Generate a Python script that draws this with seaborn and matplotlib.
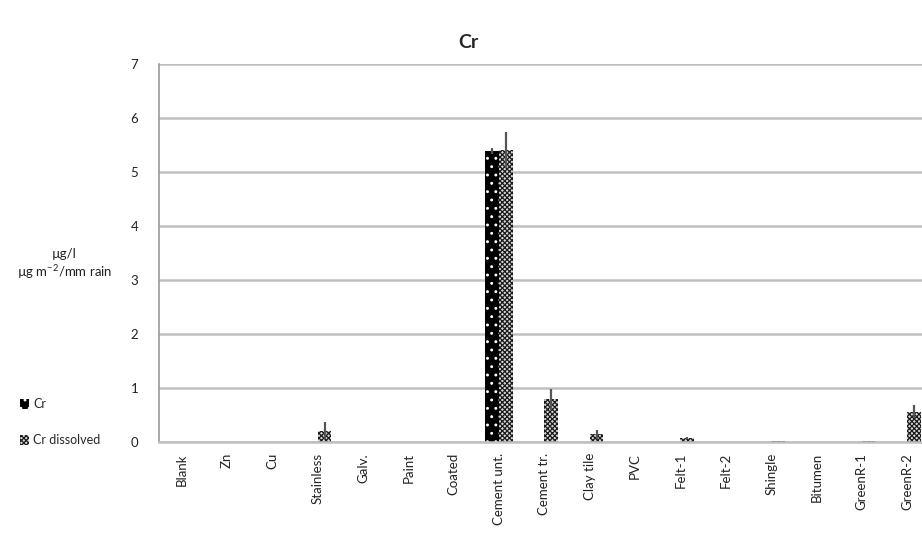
import matplotlib
matplotlib.use('Agg')
import matplotlib.pyplot as plt
import matplotlib.patches as mpatches
import pandas as pd
import seaborn as sns
import numpy as np

# Data
categories = ['Blank', 'Zn', 'Cu', 'Stainless', 'Galv.', 'Paint', 'Coated', 'Cement unt.',
              'Cement tr.', 'Clay tile', 'PVC', 'Felt-1', 'Felt-2', 'Shingle', 'Bitumen',
              'GreenR-1', 'GreenR-2']
cr_total = [0, 0, 0, 0, 0, 0, 0, 5.38, 0, 0, 0, 0, 0, 0, 0, 0, 0]
cr_total_err = [0, 0, 0, 0, 0, 0, 0, 0.05, 0, 0, 0, 0, 0, 0, 0, 0, 0]
cr_dissolved = [0, 0, 0, 0.21, 0, 0, 0, 5.4, 0.79, 0.14, 0, 0.08, 0, 0.02, 0, 0.02, 0.56]
cr_dissolved_err = [0, 0, 0, 0.16, 0, 0, 0, 0.33, 0.19, 0.09, 0, 0.02, 0, 0, 0, 0, 0.12]
series = ['Cr', 'Cr dissolved']
yticks = [0, 1, 2, 3, 4, 5, 6, 7]

df = pd.DataFrame({
    'cat': categories * 2,
    'value': cr_total + cr_dissolved,
    'series': [series[0]] * len(categories) + [series[1]] * len(categories),
})

sns.set_style('white')
plt.rcParams['font.family'] = ['Lato', 'DejaVu Sans']
plt.rcParams['hatch.linewidth'] = 0.9

fig = plt.figure(figsize=(9.22, 5.34), dpi=100)
ax = fig.add_axes([0.1725, 0.1723, 0.836, 0.7087])

sns.barplot(data=df, x='cat', y='value', hue='series', order=categories,
            hue_order=series, width=0.6, dodge=True, ax=ax, legend=False,
            palette=['black', 'white'], errorbar=None, saturation=1)

styles = [dict(fc='black', hatch='..', ec='white'),
          dict(fc='#d8d8d8', hatch='xxxxxxx', ec='#1a1a1a')]
errs = [cr_total_err, cr_dissolved_err]
for cont, st, err in zip(ax.containers, styles, errs):
    xs, ys = [], []
    for bar in cont:
        bar.set_facecolor(st['fc'])
        bar.set_hatch(st['hatch'])
        bar.set_edgecolor(st['ec'])
        bar.set_linewidth(0)
        xs.append(bar.get_x() + bar.get_width() / 2)
        ys.append(bar.get_height())
    xs, ys, e = np.array(xs), np.array(ys), np.array(err)
    m = e > 0
    ax.errorbar(xs[m], ys[m], yerr=e[m], fmt='none', ecolor='#555555',
                elinewidth=1.6, capsize=0, zorder=5)

ax.set_ylim(0, 7)
ax.set_xlim(-0.5, len(categories) - 0.5)
ax.set_yticks(yticks)
ax.yaxis.grid(True, color='#c0c0c0', linewidth=1.8)
ax.set_axisbelow(True)
for s in ['top', 'right']:
    ax.spines[s].set_visible(False)
ax.spines['left'].set_color('#9a9a9a')
ax.spines['left'].set_linewidth(1.2)
ax.spines['bottom'].set_color('#c0c0c0')
ax.spines['bottom'].set_linewidth(1.8)

ax.set_xticks(range(len(categories)))
ax.set_xticklabels(categories, rotation=90, fontsize=9.5, color='#222222')
ax.set_xticks(np.arange(-0.5, len(categories), 1), minor=True)
ax.tick_params(axis='x', which='major', length=0, pad=8)
ax.tick_params(axis='x', which='minor', length=4, color='#9a9a9a', width=1.2)
ax.tick_params(axis='y', length=5, color='#c0c0c0', width=1.8, labelsize=9.5, pad=10,
               labelcolor='#222222')
ax.set_xlabel('')
ax.set_ylabel('')

fig.text(0.07, 0.505, 'µg/l\nµg m$^{\\mathregular{-2}}$/mm rain', ha='center', va='center',
         fontsize=9.5, linespacing=1.2, color='#222222')
fig.text(0.508, 0.92, 'Cr', ha='center', va='center', fontsize=14, fontweight='bold')

handles = [mpatches.Patch(facecolor=st['fc'], hatch=st['hatch'], edgecolor=st['ec'],
                          linewidth=0) for st in styles]
fig.legend(handles, series, loc='upper left', bbox_to_anchor=(0.01, 0.275),
           frameon=False, fontsize=9, handlelength=0.7, handleheight=0.9,
           labelspacing=1.9, handletextpad=0.3)

fig.savefig('out.png', dpi=100)
